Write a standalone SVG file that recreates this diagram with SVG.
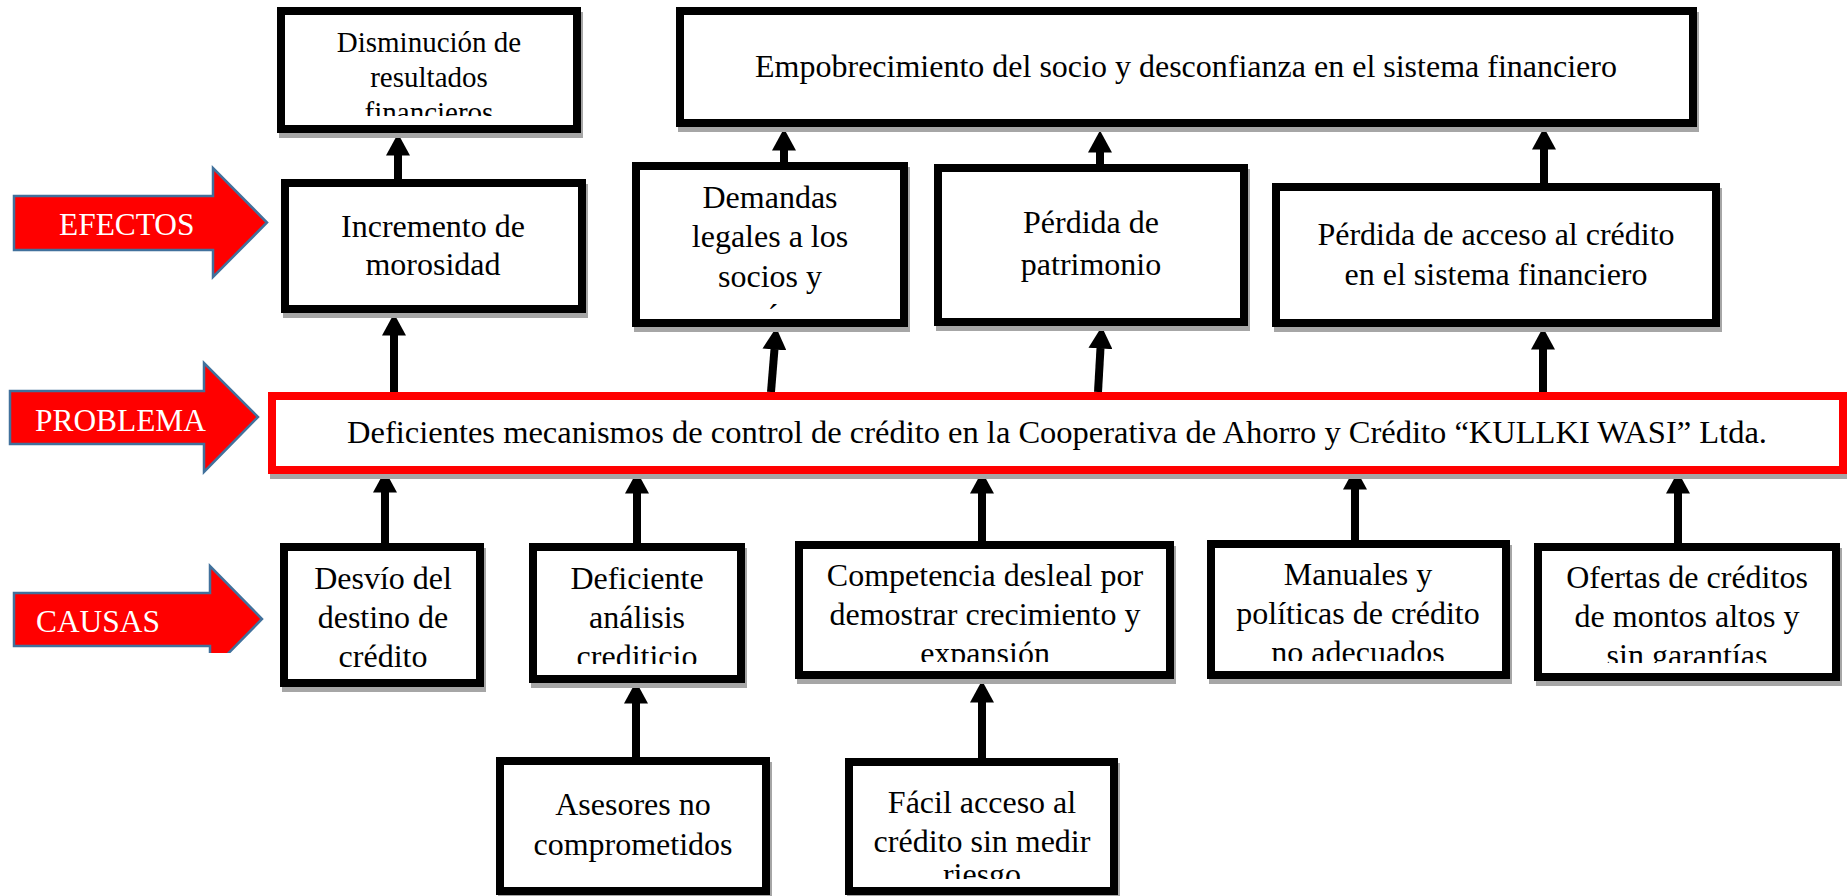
<svg xmlns="http://www.w3.org/2000/svg" width="1847" height="896" viewBox="0 0 1847 896">
<style>
.box{fill:#fff;stroke:#000;stroke-width:8}
.sh{fill:#a6a6a6}
.prob{fill:#fff;stroke:#ff0000;stroke-width:8}
.t{font-family:"Liberation Serif","Times New Roman",serif;font-size:32px;fill:#000;text-anchor:middle}
.lab{font-family:"Liberation Serif","Times New Roman",serif;font-size:31.4px;fill:#fff}
.blk{fill:#ff0000;stroke:#41719c;stroke-width:2.5}
.cn{stroke:#000;stroke-width:8;fill:none;marker-end:url(#ah)}
</style>
<defs>
<marker id="ah" markerUnits="userSpaceOnUse" markerWidth="22" markerHeight="24" viewBox="0 0 22 24" refX="0.5" refY="12" orient="auto">
<path d="M0,0 L22,12 L0,24 z" fill="#000"/>
</marker>
<clipPath id="cDis"><rect x="0" y="0" width="1847" height="116"/></clipPath>
<clipPath id="cDem"><rect x="0" y="0" width="1847" height="310"/></clipPath>
<clipPath id="cDef"><rect x="0" y="0" width="1847" height="664"/></clipPath>
<clipPath id="cCom"><rect x="0" y="0" width="1847" height="662"/></clipPath>
<clipPath id="cMan"><rect x="0" y="0" width="1847" height="661"/></clipPath>
<clipPath id="cOfe"><rect x="0" y="0" width="1847" height="663"/></clipPath>
<clipPath id="cFac"><rect x="0" y="0" width="1847" height="879"/></clipPath>
<clipPath id="cCau"><rect x="0" y="0" width="1847" height="653"/></clipPath>
</defs>
<rect x="0" y="0" width="1847" height="896" fill="#fff"/>

<g id="label-efectos">
<polygon class="blk" points="14,196 213,196 213,168 267,222.5 213,277 213,250 14,250"/>
<text class="lab" x="59" y="235">EFECTOS</text>
</g>
<g id="label-problema">
<polygon class="blk" points="10,391 204,391 204,363 258,417 204,472 204,444 10,444"/>
<text class="lab" x="35" y="431">PROBLEMA</text>
</g>
<g id="label-causas">
<g clip-path="url(#cCau)">
<polygon class="blk" points="14,593 210,593 210,566 262,619 210,672 210,646 14,646"/>
</g>
<text class="lab" x="36" y="632">CAUSAS</text>
</g>

<g id="connectors">
<line class="cn" x1="398" y1="182" x2="398" y2="155"/>
<line class="cn" x1="394" y1="394" x2="394" y2="335"/>
<line class="cn" x1="784" y1="165" x2="784" y2="150"/>
<line class="cn" x1="771" y1="392" x2="774.5" y2="349"/>
<line class="cn" x1="1100" y1="172" x2="1100" y2="152"/>
<line class="cn" x1="1098" y1="392" x2="1100.5" y2="348"/>
<line class="cn" x1="1544" y1="186" x2="1544" y2="149"/>
<line class="cn" x1="1543" y1="394" x2="1543" y2="349"/>
<line class="cn" x1="385" y1="546" x2="385" y2="492"/>
<line class="cn" x1="637" y1="546" x2="637" y2="493"/>
<line class="cn" x1="982" y1="544" x2="982" y2="493"/>
<line class="cn" x1="1355" y1="543" x2="1355" y2="489"/>
<line class="cn" x1="1678" y1="546" x2="1678" y2="493"/>
<line class="cn" x1="636" y1="760" x2="636" y2="703"/>
<line class="cn" x1="982" y1="761" x2="982" y2="702"/>
</g>

<g id="n-disminucion">
<rect class="sh" x="279" y="12" width="304" height="126"/>
<rect class="box" x="281" y="11" width="296" height="118"/>
<g clip-path="url(#cDis)">
<text class="t" style="font-size:29px"><tspan x="429" y="52">Disminución de</tspan><tspan x="429" y="87">resultados</tspan><tspan x="429" y="122">financieros</tspan></text>
</g>
</g>

<g id="n-empobrecimiento">
<rect class="sh" x="678" y="12" width="1021" height="120"/>
<rect class="box" x="680" y="11" width="1013" height="112"/>
<text class="t" x="1186" y="77">Empobrecimiento del socio y desconfianza en el sistema financiero</text>
</g>

<g id="n-incremento">
<rect class="sh" x="283" y="184" width="305" height="134"/>
<rect class="box" x="285" y="183" width="297" height="126"/>
<text class="t"><tspan x="433" y="237">Incremento de</tspan><tspan x="433" y="275">morosidad</tspan></text>
</g>

<g id="n-demandas">
<rect class="sh" x="634" y="167" width="276" height="165"/>
<rect class="box" x="636" y="166" width="268" height="157"/>
<g clip-path="url(#cDem)">
<text class="t"><tspan x="770" y="208">Demandas</tspan><tspan x="770" y="247">legales a los</tspan><tspan x="770" y="287">socios y</tspan></text>
<text class="t" x="773" y="326">´</text>
</g>
</g>

<g id="n-patrimonio">
<rect class="sh" x="936" y="169" width="314" height="162"/>
<rect class="box" x="938" y="168" width="306" height="154"/>
<text class="t"><tspan x="1091" y="233">Pérdida de</tspan><tspan x="1091" y="275">patrimonio</tspan></text>
</g>

<g id="n-acceso">
<rect class="sh" x="1274" y="188" width="448" height="144"/>
<rect class="box" x="1276" y="187" width="440" height="136"/>
<text class="t"><tspan x="1496" y="245">Pérdida de acceso al crédito</tspan><tspan x="1496" y="285">en el sistema financiero</tspan></text>
</g>

<g id="n-problema">
<rect class="sh" x="270" y="397" width="1579" height="82"/>
<rect class="prob" x="272" y="396" width="1571" height="74"/>
<text class="t" style="font-size:32.5px" x="1057" y="443">Deficientes mecanismos de control de crédito en la Cooperativa de Ahorro y Crédito “KULLKI WASI” Ltda.</text>
</g>

<g id="n-desvio">
<rect class="sh" x="282" y="548" width="204" height="144"/>
<rect class="box" x="284" y="547" width="196" height="136"/>
<text class="t"><tspan x="383" y="589">Desvío del</tspan><tspan x="383" y="628">destino de</tspan><tspan x="383" y="667">crédito</tspan></text>
</g>

<g id="n-deficiente">
<rect class="sh" x="531" y="548" width="216" height="140"/>
<rect class="box" x="533" y="547" width="208" height="132"/>
<g clip-path="url(#cDef)">
<text class="t"><tspan x="637" y="589">Deficiente</tspan><tspan x="637" y="628">análisis</tspan><tspan x="637" y="667">crediticio</tspan></text>
</g>
</g>

<g id="n-competencia">
<rect class="sh" x="797" y="546" width="379" height="138"/>
<rect class="box" x="799" y="545" width="371" height="130"/>
<g clip-path="url(#cCom)">
<text class="t"><tspan x="985" y="586">Competencia desleal por</tspan><tspan x="985" y="625">demostrar crecimiento y</tspan><tspan x="985" y="664">expansión</tspan></text>
</g>
</g>

<g id="n-manuales">
<rect class="sh" x="1209" y="545" width="303" height="139"/>
<rect class="box" x="1211" y="544" width="295" height="131"/>
<g clip-path="url(#cMan)">
<text class="t"><tspan x="1358" y="585">Manuales y</tspan><tspan x="1358" y="624">políticas de crédito</tspan><tspan x="1358" y="663">no adecuados</tspan></text>
</g>
</g>

<g id="n-ofertas">
<rect class="sh" x="1536" y="548" width="306" height="138"/>
<rect class="box" x="1538" y="547" width="298" height="130"/>
<g clip-path="url(#cOfe)">
<text class="t"><tspan x="1687" y="588">Ofertas de créditos</tspan><tspan x="1687" y="627">de montos altos y</tspan><tspan x="1687" y="666">sin garantías</tspan></text>
</g>
</g>

<g id="n-asesores">
<rect class="sh" x="498" y="762" width="274" height="138"/>
<rect class="box" x="500" y="761" width="266" height="130"/>
<text class="t"><tspan x="633" y="815">Asesores no</tspan><tspan x="633" y="855">comprometidos</tspan></text>
</g>

<g id="n-facil">
<rect class="sh" x="847" y="763" width="273" height="137"/>
<rect class="box" x="849" y="762" width="265" height="129"/>
<g clip-path="url(#cFac)">
<text class="t"><tspan x="982" y="813">Fácil acceso al</tspan><tspan x="982" y="852">crédito sin medir</tspan><tspan x="982" y="885">riesgo</tspan></text>
</g>
</g>
</svg>
